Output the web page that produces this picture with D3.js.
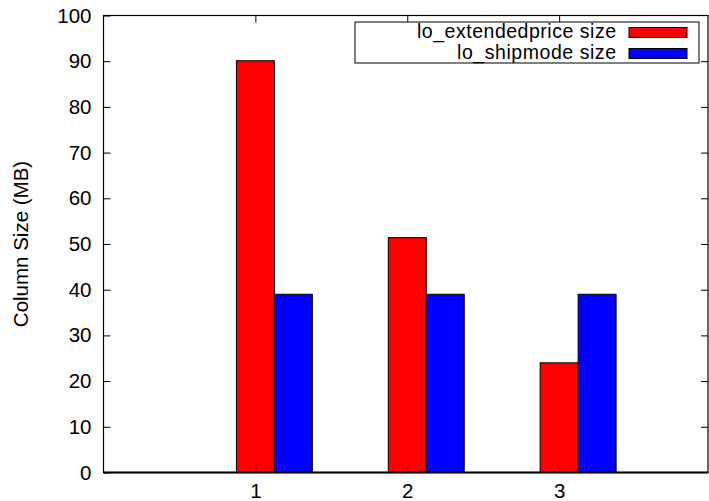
<!DOCTYPE html>
<html>
<head>
<meta charset="utf-8">
<script src="https://cdn.jsdelivr.net/npm/d3@7"></script>
<style>
  html, body { margin: 0; padding: 0; background: #fff; }
  svg { display: block; font-family: "Liberation Sans", Arial, sans-serif; }
</style>
</head>
<body>
<svg id="chart" width="709" height="501"></svg>
<script>
// Column sizes per run
const categories = ["1", "2", "3"];
const extendedpriceSize = [90.1, 51.4, 24.0];
const shipmodeSize = [39.0, 39.0, 39.0];
const seriesNames = ["lo_extendedprice size", "lo_shipmode size"];
const seriesColors = ["#ff0000", "#0000ff"];
const yTicks = [0, 10, 20, 30, 40, 50, 60, 70, 80, 90, 100];

const svg = d3.select("#chart");
const plotLeft = 103.5, plotRight = 708, plotTop = 15.5, plotBottom = 472.5;
const fontSize = 20.5;

const x = d3.scaleLinear().domain([0, 3.98]).range([plotLeft, plotRight]);
const y = d3.scaleLinear().domain([0, 100]).range([plotBottom, plotTop]);
const barW = 0.25;

const series = [extendedpriceSize, shipmodeSize];

// Bars: red centred on the category, blue immediately to its right
series.forEach((vals, s) => {
  svg.append("g").selectAll("rect").data(vals).join("rect")
    .attr("x", (d, i) => x(i + 1 - barW / 2 + s * barW))
    .attr("width", x(barW) - x(0))
    .attr("y", d => y(d))
    .attr("height", d => y(0) - y(d))
    .attr("fill", seriesColors[s])
    .attr("stroke", "#000")
    .attr("stroke-width", 1);
});

// Left axis with mirrored ticks on the right
const yAxisL = d3.axisLeft(y).tickValues(yTicks).tickSize(-7).tickPadding(12).tickFormat(d3.format("d"));
const gL = svg.append("g").attr("transform", `translate(${plotLeft},0)`).call(yAxisL);
gL.select(".domain").remove();
gL.selectAll("text").attr("font-size", fontSize).attr("font-family", "Liberation Sans, Arial, sans-serif").attr("fill", "#000");
gL.selectAll("line").attr("stroke", "#000");

const yAxisR = d3.axisRight(y).tickValues(yTicks.slice(1, -1)).tickSize(-7).tickFormat("");
const gR = svg.append("g").attr("transform", `translate(${plotRight},0)`).call(yAxisR);
gR.select(".domain").remove();
gR.selectAll("line").attr("stroke", "#000");

// Bottom axis labels and mirrored ticks on top
const cats = categories.map((c, i) => i + 1);
const xAxisB = d3.axisBottom(x).tickValues(cats).tickSize(-7).tickPadding(11).tickFormat((d, i) => categories[i]);
const gB = svg.append("g").attr("transform", `translate(0,${plotBottom})`).call(xAxisB);
gB.select(".domain").remove();
gB.selectAll("text").attr("font-size", fontSize).attr("font-family", "Liberation Sans, Arial, sans-serif").attr("fill", "#000");
gB.selectAll("line").attr("stroke", "#000");

const xAxisT = d3.axisTop(x).tickValues(cats).tickSize(-7).tickFormat("");
const gT = svg.append("g").attr("transform", `translate(0,${plotTop})`).call(xAxisT);
gT.select(".domain").remove();
gT.selectAll("line").attr("stroke", "#000");

// Plot border
svg.append("rect")
  .attr("x", plotLeft).attr("y", plotTop)
  .attr("width", plotRight - plotLeft).attr("height", plotBottom - plotTop)
  .attr("fill", "none").attr("stroke", "#000").attr("stroke-width", 1.2);
svg.append("line")
  .attr("x1", plotLeft).attr("x2", plotRight).attr("y1", plotBottom).attr("y2", plotBottom)
  .attr("stroke", "#000").attr("stroke-width", 2);

// Y axis title
svg.append("text")
  .attr("transform", `translate(27.5,${(plotTop + plotBottom) / 2}) rotate(-90)`)
  .attr("text-anchor", "middle")
  .attr("font-size", fontSize)
  .text("Column Size (MB)");

// Legend
const legendFont = 19.5;
const legendTextWidths = [199, 159];
const legend = svg.append("g");
legend.append("rect")
  .attr("x", 355).attr("y", 22).attr("width", 344).attr("height", 41)
  .attr("fill", "#fff").attr("stroke", "#000").attr("stroke-width", 1);
seriesNames.forEach((name, i) => {
  const cy = 32.5 + i * 21;
  legend.append("text")
    .attr("x", 616).attr("y", cy + 5.5)
    .attr("text-anchor", "end")
    .attr("font-size", legendFont)
    .attr("textLength", legendTextWidths[i])
    .text(name);
  legend.append("rect")
    .attr("x", 629).attr("y", cy - 5).attr("width", 58).attr("height", 10)
    .attr("fill", seriesColors[i]).attr("stroke", "#000").attr("stroke-width", 1);
});
</script>
</body>
</html>
